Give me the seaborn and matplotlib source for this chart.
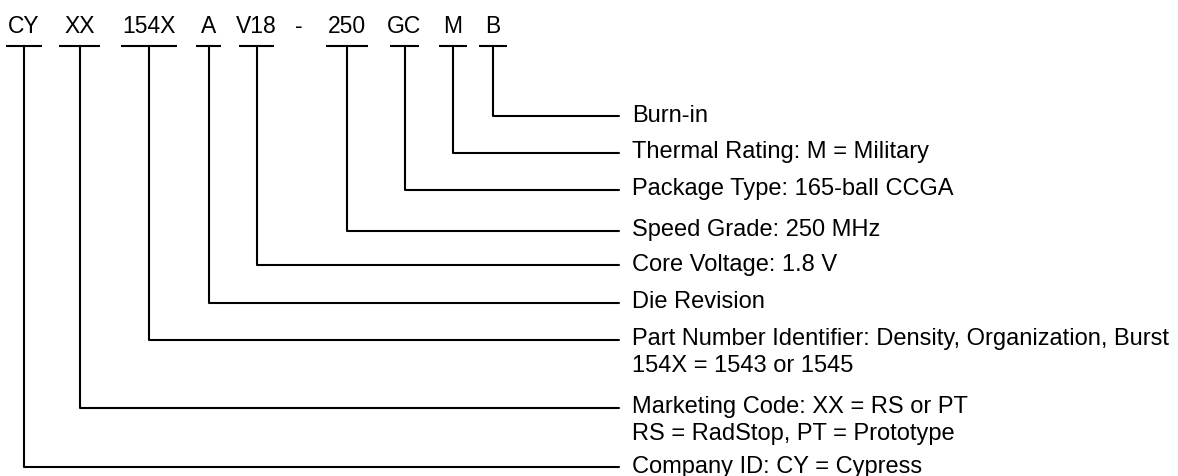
import matplotlib
matplotlib.use("Agg")
import matplotlib.pyplot as plt
import seaborn as sns

# ordering code fields, left to right
codes = ["CY", "XX", "154X", "A", "V18", "-", "250", "GC", "M", "B"]

# what each field means (the "-" separator has no entry)
descriptions = {
    "CY": "Company ID: CY = Cypress",
    "XX": "Marketing Code: XX = RS or PT\nRS = RadStop, PT = Prototype",
    "154X": "Part Number Identifier: Density, Organization, Burst\n154X = 1543 or 1545",
    "A": "Die Revision",
    "V18": "Core Voltage: 1.8 V",
    "250": "Speed Grade: 250 MHz",
    "GC": "Package Type: 165-ball CCGA",
    "M": "Thermal Rating: M = Military",
    "B": "Burn-in",
}

# layout (pixels, y grows downward)
code_x = [23.5, 79.5, 149, 208.5, 256.5, 299, 347, 404.5, 453, 493]
underline_w = [36, 41, 56, 25, 35, 0, 42, 29, 28, 28]
row_y = {"B": 116, "M": 152.5, "GC": 190, "250": 230.5, "V18": 265,
         "A": 303, "154X": 340, "XX": 407.5, "CY": 467}
underline_y = 46
line_end = 619
text_x = 632

sns.set_theme(style="white")
plt.rcParams["font.family"] = ["Liberation Sans", "DejaVu Sans"]

fig = plt.figure(figsize=(11.78, 4.76), dpi=100)
ax = fig.add_axes([0, 0, 1, 1])
lw = 1.5

for code, x, w in zip(codes, code_x, underline_w):
    ax.text(x, 33, code, ha="center", va="baseline", fontsize=16.5, color="black")
    if code not in descriptions:
        continue
    ax.plot([x - w / 2, x + w / 2], [underline_y, underline_y], color="black", lw=lw,
            solid_capstyle="butt")
    y = row_y[code]
    sns.lineplot(x=[x, x, line_end], y=[underline_y, y, y], sort=False, estimator=None,
                 color="black", lw=lw, ax=ax)
    for i, line in enumerate(descriptions[code].split("\n")):
        ax.text(text_x, y + 5.5 + i * 27, line, ha="left", va="baseline",
                fontsize=17, color="black")

ax.set_xlim(0, 1178)
ax.set_ylim(476, 0)
ax.axis("off")
fig.savefig("out.png", dpi=100)
